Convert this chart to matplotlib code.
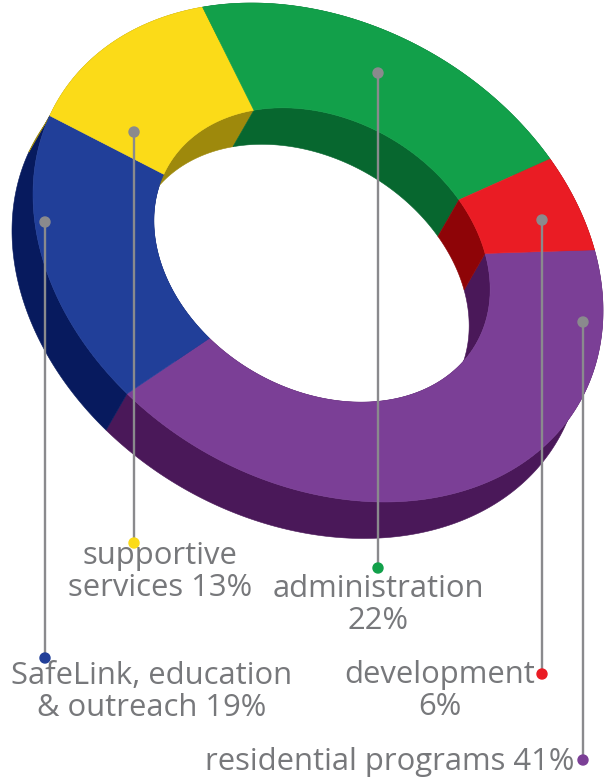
import numpy as np
import matplotlib.pyplot as plt
from matplotlib.patches import Polygon, Circle

# ---- data ----
categories = ["residential programs", "SafeLink, education & outreach",
              "supportive services", "administration", "development"]
values = [41, 19, 13, 22, 6]
label_texts = ["residential programs 41%", "SafeLink, education\n& outreach 19%",
               "supportive\nservices 13%", "administration\n22%", "development\n6%"]
top_colors = ["#7B3F96", "#213F99", "#FBDB18", "#12A04A", "#EA1C24"]
wall_colors = ["#4A1859", "#071A5E", "#9E890C", "#07672F", "#8E0407"]

# ---- layout (pixel space) ----
W, H = 613, 782
c_out = np.array([318.0, 252.5])
c_in = np.array([322.0, 255.0])
A, B = 301.4, 229.4
phi = np.deg2rad(30.1)
r_in = 0.59
off = np.array([-21.0, 36.5])
start = -37.9

# leader lines: x, top y, bottom y ; label anchor
leaders = [(583, 322, 760), (45, 222, 658), (134, 132, 543), (378, 73, 568), (542, 220, 674)]
label_pos = [(574, 762, "right"), (152, 692, "center"), (160, 572, "center"),
             (378, 605, "center"), (440, 691, "center")]

fig = plt.figure(figsize=(W / 100, H / 100), dpi=100)
ax = fig.add_axes([0, 0, 1, 1])
ax.set_xlim(0, W)
ax.set_ylim(H, 0)
ax.axis("off")


def proj(t_deg, r, c):
    t = np.deg2rad(t_deg)
    x = A * r * np.cos(t)
    y = B * r * np.sin(t)
    X = x * np.cos(phi) - y * np.sin(phi)
    Y = x * np.sin(phi) + y * np.cos(phi)
    return np.column_stack([c[0] + X, c[1] + Y])


vals = np.array(values, dtype=float)
edges = start + 360 * np.concatenate([[0], np.cumsum(vals / vals.sum())])

# side walls (outer and inner)
for i in range(len(vals)):
    t = np.linspace(edges[i], edges[i + 1], 240)
    for r, c in ((1.0, c_out), (r_in, c_in)):
        arc = proj(t, r, c)
        poly = np.vstack([arc, arc[::-1] + off])
        ax.add_patch(Polygon(poly, closed=True, facecolor=wall_colors[i],
                             edgecolor=wall_colors[i], linewidth=0.4, zorder=1))

# top faces
for i in range(len(vals)):
    t = np.linspace(edges[i], edges[i + 1], 240)
    outer = proj(t, 1.0, c_out)
    inner = proj(t[::-1], r_in, c_in)
    ax.add_patch(Polygon(np.vstack([outer, inner]), closed=True,
                         facecolor=top_colors[i], edgecolor=top_colors[i],
                         linewidth=0.4, zorder=2))

line_col = "#8A8A8D"
text_col = "#77787B"
for i, (lx, ty, by) in enumerate(leaders):
    ax.plot([lx, lx], [ty, by], color=line_col, lw=1.7, zorder=3, solid_capstyle="butt")
    ax.add_patch(Circle((lx, ty), 5, color=line_col, zorder=4))
    ax.add_patch(Circle((lx, by), 5, color=top_colors[i], zorder=4))
    px, py, ha = label_pos[i]
    ax.text(px, py, label_texts[i], ha=ha, va="center", color=text_col,
            fontsize=22.3, family="Open Sans", fontweight="normal",
            linespacing=1.08, multialignment="center", zorder=5)

fig.savefig("out.png", dpi=100)
